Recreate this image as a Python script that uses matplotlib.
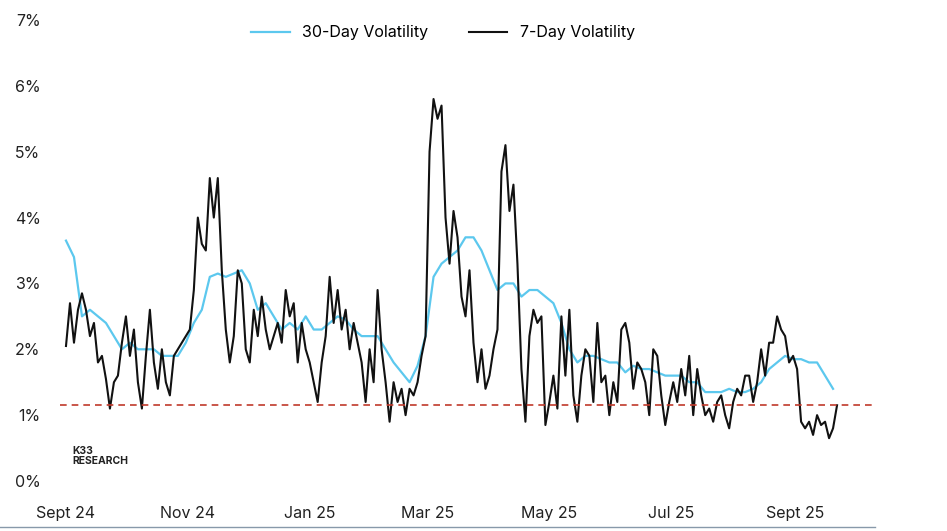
import matplotlib
matplotlib.use("Agg")
import matplotlib.pyplot as plt
import pandas as pd

plt.rcParams["font.family"] = "Inter"

vol7 = [2.05,2.7,2.1,2.6,2.85,2.6,2.2,2.4,1.8,1.9,1.55,1.1,1.5,1.6,2.1,2.5,1.9,2.3,1.5,1.1,1.9,2.6,1.8,1.4,2.0,1.5,1.3,1.9,2.0,2.1,2.2,2.3,2.9,4.0,3.6,3.5,4.6,4.0,4.6,3.2,2.3,1.8,2.2,3.2,3.0,2.0,1.8,2.6,2.2,2.8,2.3,2.0,2.2,2.4,2.1,2.9,2.5,2.7,1.8,2.4,2.0,1.8,1.5,1.2,1.8,2.2,3.1,2.4,2.9,2.3,2.6,2.0,2.4,2.1,1.8,1.2,2.0,1.5,2.9,2.0,1.5,0.9,1.5,1.2,1.4,1.0,1.4,1.3,1.5,1.9,2.2,5.0,5.8,5.5,5.7,4.0,3.3,4.1,3.7,2.8,2.5,3.2,2.1,1.5,2.0,1.4,1.6,2.0,2.3,4.7,5.1,4.1,4.5,3.3,1.7,0.9,2.2,2.6,2.4,2.5,0.85,1.2,1.6,1.1,2.5,1.6,2.6,1.3,0.9,1.6,2.0,1.9,1.2,2.4,1.5,1.6,1.0,1.5,1.2,2.3,2.4,2.1,1.4,1.8,1.7,1.5,1.0,2.0,1.9,1.3,0.85,1.2,1.5,1.2,1.7,1.3,1.9,1.0,1.7,1.3,1.0,1.1,0.9,1.2,1.3,1.0,0.8,1.2,1.4,1.3,1.6,1.6,1.2,1.5,2.0,1.6,2.1,2.1,2.5,2.3,2.2,1.8,1.9,1.7,0.9,0.8,0.9,0.7,1.0,0.85,0.9,0.65,0.8,1.15]
vol30 = [3.65,3.4,2.5,2.6,2.5,2.4,2.2,2.0,2.1,2.0,2.0,2.0,1.9,1.9,1.9,2.1,2.4,2.6,3.1,3.15,3.1,3.15,3.2,3.0,2.6,2.7,2.5,2.3,2.4,2.3,2.5,2.3,2.3,2.4,2.5,2.45,2.3,2.2,2.2,2.2,2.0,1.8,1.65,1.5,1.75,2.2,3.1,3.3,3.4,3.5,3.7,3.7,3.5,3.2,2.9,3.0,3.0,2.8,2.9,2.9,2.8,2.7,2.4,2.0,1.8,1.9,1.9,1.85,1.8,1.8,1.65,1.75,1.7,1.7,1.65,1.6,1.6,1.6,1.5,1.5,1.35,1.35,1.35,1.4,1.35,1.35,1.4,1.5,1.7,1.8,1.9,1.85,1.85,1.8,1.8,1.6,1.4]
threshold = 1.15
tick_dates = ["2024-09-01","2024-11-01","2025-01-01","2025-03-01","2025-05-01","2025-07-01","2025-09-01"]
tick_labels = ["Sept 24","Nov 24","Jan 25","Mar 25","May 25","Jul 25","Sept 25"]

d7 = pd.date_range("2024-09-01", periods=len(vol7), freq="2D")
d30 = pd.date_range("2024-09-01", periods=len(vol30), freq="4D")

fig = plt.figure(figsize=(9.47, 5.31), dpi=100)
ax = fig.add_axes([60/947, 50/531, (875-60)/947, (481-20)/531])
ax.plot(d30, vol30, color="#5cc8ee", lw=1.6, label="30-Day Volatility")
ax.plot(d7, vol7, color="#111111", lw=1.5, label="7-Day Volatility")
ax.axhline(threshold, color="#c0392b", ls=(0, (4, 3)), lw=1.2)
ax.set_ylim(0, 7)
ax.set_xlim(pd.Timestamp("2024-08-29"), pd.Timestamp("2025-10-11"))
ax.set_yticks(range(8))
ax.set_yticklabels([f"{i}%" for i in range(8)])
ax.set_xticks(pd.to_datetime(tick_dates))
ax.set_xticklabels(tick_labels)
ax.tick_params(length=0, labelsize=11.5, colors="#222222")
ax.tick_params(axis="x", pad=18)
ax.tick_params(axis="y", pad=14)
for s in ax.spines.values():
    s.set_visible(False)
fig.add_artist(plt.Line2D([0, 875/947], [4/531, 4/531], color="#8899aa", lw=1))
ax.legend(loc="upper center", bbox_to_anchor=(0.47, 1.02), ncol=2, frameon=False,
          fontsize=11.5, handlelength=2.4, columnspacing=2.5)
fig.text(72/947, 1-456/531, "K33\nRESEARCH", fontsize=7.5, fontweight="bold", color="#222222", va="center", linespacing=1.1)
fig.savefig("out.png", dpi=100)
